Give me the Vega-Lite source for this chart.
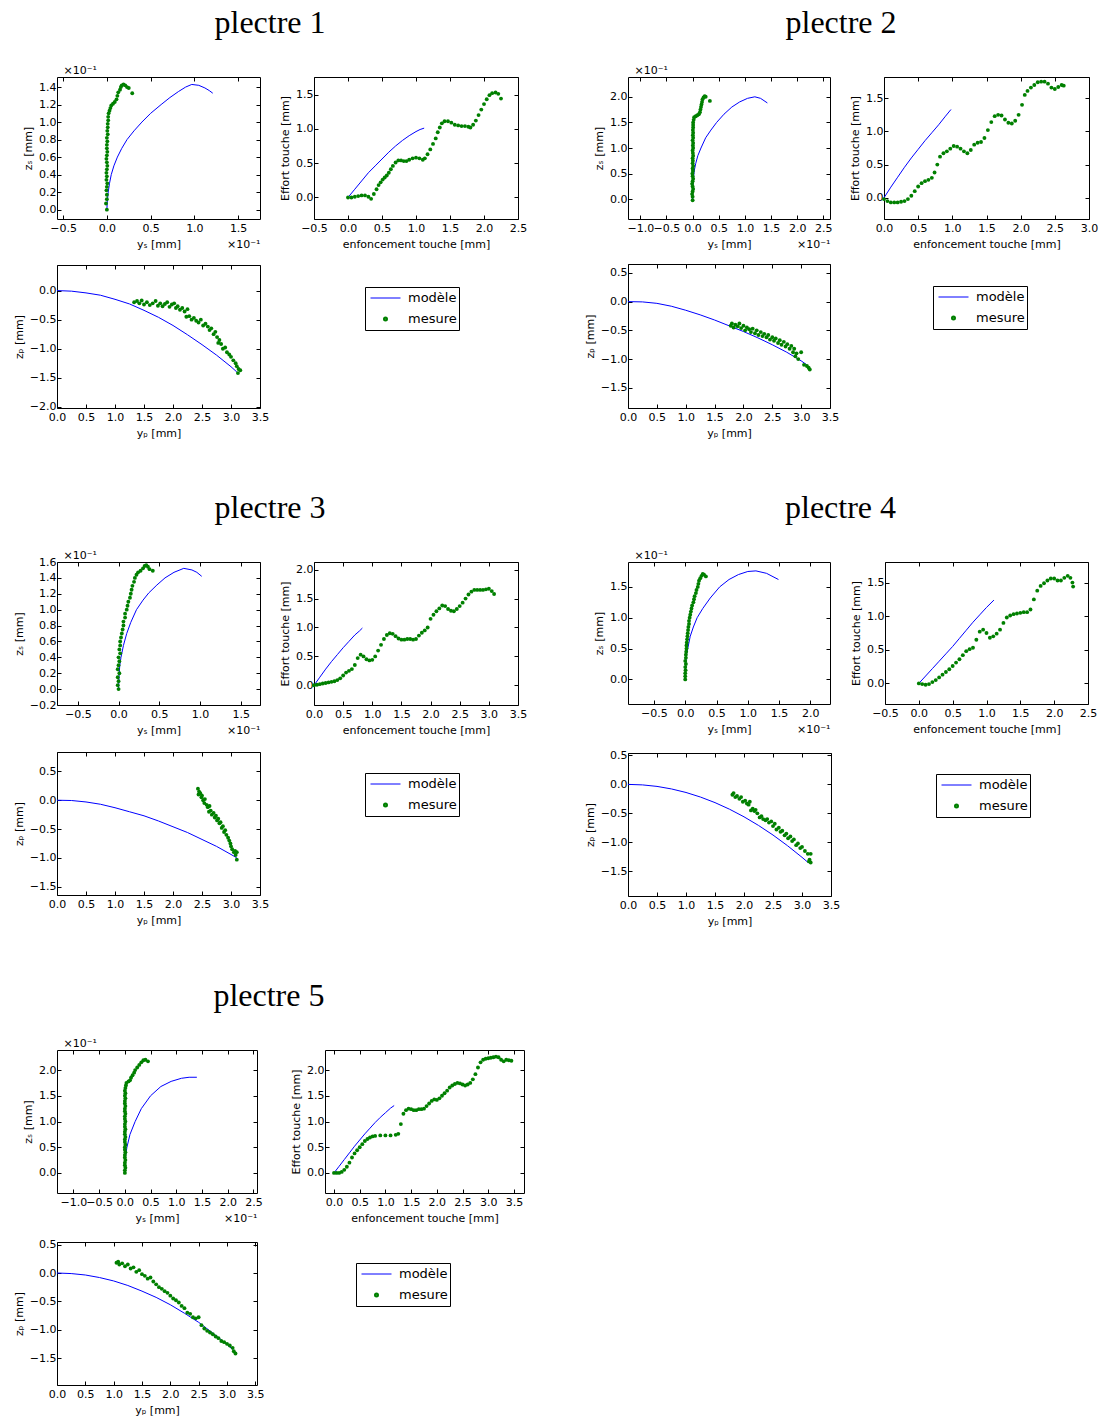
{
"$schema": "https://vega.github.io/schema/vega-lite/v6.json",
"background": "white",
"padding": {"left": 12, "top": 6, "right": 5, "bottom": 5},
"datasets": {
"p1a": [{"x":0,"y":0},{"x":0.005,"y":0.1},{"x":0.015,"y":0.2},{"x":0.03,"y":0.3},{"x":0.05,"y":0.4},{"x":0.08,"y":0.5},{"x":0.12,"y":0.6},{"x":0.17,"y":0.7},{"x":0.23,"y":0.8},{"x":0.31,"y":0.9},{"x":0.4,"y":1.0},{"x":0.5,"y":1.1},{"x":0.62,"y":1.2},{"x":0.72,"y":1.28},{"x":0.82,"y":1.35},{"x":0.9,"y":1.4},{"x":0.97,"y":1.43},{"x":1.05,"y":1.42},{"x":1.12,"y":1.39},{"x":1.17,"y":1.36},{"x":1.21,"y":1.33}],
"p1b": [{"x":0,"y":0},{"x":-0.01,"y":0.07},{"x":0,"y":0.12},{"x":0,"y":0.17},{"x":-0.005,"y":0.22},{"x":0,"y":0.26},{"x":0.005,"y":0.3},{"x":-0.005,"y":0.34},{"x":0,"y":0.38},{"x":-0.005,"y":0.42},{"x":0,"y":0.46},{"x":0.005,"y":0.5},{"x":0,"y":0.54},{"x":-0.005,"y":0.58},{"x":0,"y":0.62},{"x":0.005,"y":0.66},{"x":0,"y":0.7},{"x":0,"y":0.74},{"x":0.005,"y":0.78},{"x":0,"y":0.82},{"x":0.01,"y":0.86},{"x":0.005,"y":0.9},{"x":0.01,"y":0.94},{"x":0.01,"y":0.98},{"x":0.015,"y":1.02},{"x":0.015,"y":1.06},{"x":0.02,"y":1.1},{"x":0.03,"y":1.13},{"x":0.04,"y":1.16},{"x":0.05,"y":1.19},{"x":0.07,"y":1.21},{"x":0.09,"y":1.23},{"x":0.11,"y":1.26},{"x":0.12,"y":1.3},{"x":0.13,"y":1.34},{"x":0.15,"y":1.37},{"x":0.16,"y":1.4},{"x":0.17,"y":1.42},{"x":0.19,"y":1.43},{"x":0.21,"y":1.42},{"x":0.23,"y":1.4},{"x":0.25,"y":1.39},{"x":0.29,"y":1.33}],
"p1c": [{"x":0,"y":0},{"x":0.1,"y":0.12},{"x":0.2,"y":0.24},{"x":0.3,"y":0.36},{"x":0.4,"y":0.46},{"x":0.5,"y":0.56},{"x":0.6,"y":0.66},{"x":0.7,"y":0.75},{"x":0.8,"y":0.83},{"x":0.9,"y":0.9},{"x":1.0,"y":0.96},{"x":1.06,"y":0.99},{"x":1.12,"y":1.01}],
"p1d": [{"x":0,"y":0},{"x":0.05,"y":0},{"x":0.1,"y":0.01},{"x":0.15,"y":0.02},{"x":0.2,"y":0.03},{"x":0.25,"y":0.03},{"x":0.3,"y":0.01},{"x":0.34,"y":-0.02},{"x":0.38,"y":0.05},{"x":0.42,"y":0.12},{"x":0.45,"y":0.18},{"x":0.48,"y":0.22},{"x":0.51,"y":0.26},{"x":0.54,"y":0.29},{"x":0.57,"y":0.32},{"x":0.6,"y":0.36},{"x":0.63,"y":0.41},{"x":0.66,"y":0.46},{"x":0.7,"y":0.51},{"x":0.74,"y":0.54},{"x":0.78,"y":0.54},{"x":0.82,"y":0.53},{"x":0.86,"y":0.53},{"x":0.9,"y":0.55},{"x":0.95,"y":0.57},{"x":1,"y":0.58},{"x":1.05,"y":0.57},{"x":1.1,"y":0.55},{"x":1.13,"y":0.57},{"x":1.17,"y":0.63},{"x":1.21,"y":0.7},{"x":1.25,"y":0.78},{"x":1.29,"y":0.86},{"x":1.32,"y":0.95},{"x":1.35,"y":1.02},{"x":1.38,"y":1.08},{"x":1.42,"y":1.11},{"x":1.47,"y":1.11},{"x":1.52,"y":1.09},{"x":1.57,"y":1.06},{"x":1.62,"y":1.05},{"x":1.67,"y":1.04},{"x":1.72,"y":1.04},{"x":1.77,"y":1.03},{"x":1.8,"y":1.02},{"x":1.84,"y":1.06},{"x":1.88,"y":1.12},{"x":1.92,"y":1.2},{"x":1.96,"y":1.28},{"x":2,"y":1.36},{"x":2.04,"y":1.43},{"x":2.08,"y":1.49},{"x":2.12,"y":1.52},{"x":2.17,"y":1.53},{"x":2.21,"y":1.51},{"x":2.25,"y":1.44}],
"p1e": [{"x":0,"y":0},{"x":0.25,"y":-0.01},{"x":0.5,"y":-0.04},{"x":0.75,"y":-0.08},{"x":1,"y":-0.15},{"x":1.25,"y":-0.23},{"x":1.5,"y":-0.34},{"x":1.75,"y":-0.46},{"x":2,"y":-0.6},{"x":2.25,"y":-0.76},{"x":2.5,"y":-0.93},{"x":2.75,"y":-1.11},{"x":3,"y":-1.31},{"x":3.1,"y":-1.4}],
"p1f": [{"x":1.33,"y":-0.2},{"x":1.38,"y":-0.18},{"x":1.42,"y":-0.22},{"x":1.46,"y":-0.17},{"x":1.5,"y":-0.24},{"x":1.55,"y":-0.2},{"x":1.6,"y":-0.25},{"x":1.65,"y":-0.22},{"x":1.7,"y":-0.18},{"x":1.74,"y":-0.26},{"x":1.78,"y":-0.22},{"x":1.82,"y":-0.27},{"x":1.86,"y":-0.23},{"x":1.9,"y":-0.2},{"x":1.94,"y":-0.28},{"x":1.98,"y":-0.24},{"x":2.02,"y":-0.22},{"x":2.05,"y":-0.3},{"x":2.08,"y":-0.27},{"x":2.12,"y":-0.33},{"x":2.16,"y":-0.3},{"x":2.2,"y":-0.36},{"x":2.25,"y":-0.32},{"x":2.23,"y":-0.45},{"x":2.28,"y":-0.44},{"x":2.32,"y":-0.5},{"x":2.36,"y":-0.47},{"x":2.4,"y":-0.52},{"x":2.44,"y":-0.55},{"x":2.48,"y":-0.5},{"x":2.52,"y":-0.6},{"x":2.56,"y":-0.57},{"x":2.6,"y":-0.62},{"x":2.63,"y":-0.68},{"x":2.66,"y":-0.65},{"x":2.7,"y":-0.75},{"x":2.73,"y":-0.71},{"x":2.76,"y":-0.8},{"x":2.8,"y":-0.85},{"x":2.78,"y":-0.9},{"x":2.83,"y":-0.92},{"x":2.86,"y":-1.0},{"x":2.9,"y":-0.98},{"x":2.93,"y":-1.06},{"x":2.97,"y":-1.1},{"x":3,"y":-1.14},{"x":3.04,"y":-1.2},{"x":3.08,"y":-1.25},{"x":3.1,"y":-1.3},{"x":3.13,"y":-1.35},{"x":3.12,"y":-1.42},{"x":3.16,"y":-1.37}],
"p2a": [{"x":0,"y":0},{"x":0.005,"y":0.2},{"x":0.015,"y":0.4},{"x":0.03,"y":0.55},{"x":0.06,"y":0.7},{"x":0.1,"y":0.85},{"x":0.16,"y":1.0},{"x":0.25,"y":1.2},{"x":0.35,"y":1.35},{"x":0.46,"y":1.5},{"x":0.6,"y":1.66},{"x":0.75,"y":1.8},{"x":0.9,"y":1.9},{"x":1.05,"y":1.97},{"x":1.19,"y":2.0},{"x":1.3,"y":1.97},{"x":1.43,"y":1.88}],
"p2b": [{"x":0,"y":-0.02},{"x":0,"y":0.05},{"x":-0.01,"y":0.1},{"x":0,"y":0.15},{"x":0.01,"y":0.2},{"x":0,"y":0.25},{"x":-0.01,"y":0.3},{"x":0,"y":0.35},{"x":0.01,"y":0.4},{"x":0,"y":0.45},{"x":-0.005,"y":0.5},{"x":0.005,"y":0.55},{"x":0,"y":0.6},{"x":0.01,"y":0.65},{"x":0,"y":0.7},{"x":0.005,"y":0.75},{"x":0,"y":0.8},{"x":0.01,"y":0.85},{"x":0.005,"y":0.9},{"x":0,"y":0.95},{"x":0.01,"y":1.0},{"x":0.005,"y":1.05},{"x":0.01,"y":1.1},{"x":0,"y":1.15},{"x":0.01,"y":1.2},{"x":0.005,"y":1.25},{"x":0.01,"y":1.3},{"x":0.005,"y":1.35},{"x":0.01,"y":1.4},{"x":0.01,"y":1.45},{"x":0.01,"y":1.5},{"x":0.02,"y":1.55},{"x":0.03,"y":1.6},{"x":0.06,"y":1.62},{"x":0.09,"y":1.64},{"x":0.12,"y":1.66},{"x":0.14,"y":1.7},{"x":0.15,"y":1.75},{"x":0.16,"y":1.8},{"x":0.17,"y":1.85},{"x":0.18,"y":1.9},{"x":0.19,"y":1.95},{"x":0.21,"y":1.99},{"x":0.23,"y":2.01},{"x":0.25,"y":2.0},{"x":0.33,"y":1.92}],
"p2c": [{"x":0,"y":0},{"x":0.1,"y":0.16},{"x":0.2,"y":0.31},{"x":0.3,"y":0.46},{"x":0.4,"y":0.6},{"x":0.5,"y":0.73},{"x":0.6,"y":0.86},{"x":0.7,"y":0.98},{"x":0.8,"y":1.1},{"x":0.9,"y":1.23},{"x":0.98,"y":1.33}],
"p2d": [{"x":0,"y":-0.02},{"x":0.05,"y":-0.05},{"x":0.1,"y":-0.07},{"x":0.15,"y":-0.07},{"x":0.2,"y":-0.07},{"x":0.25,"y":-0.06},{"x":0.3,"y":-0.05},{"x":0.35,"y":-0.02},{"x":0.4,"y":0.03},{"x":0.45,"y":0.1},{"x":0.5,"y":0.17},{"x":0.55,"y":0.22},{"x":0.6,"y":0.25},{"x":0.65,"y":0.27},{"x":0.7,"y":0.3},{"x":0.74,"y":0.38},{"x":0.78,"y":0.5},{"x":0.82,"y":0.62},{"x":0.87,"y":0.67},{"x":0.92,"y":0.7},{"x":0.97,"y":0.74},{"x":1.02,"y":0.78},{"x":1.07,"y":0.77},{"x":1.12,"y":0.74},{"x":1.17,"y":0.7},{"x":1.22,"y":0.67},{"x":1.27,"y":0.72},{"x":1.32,"y":0.8},{"x":1.37,"y":0.83},{"x":1.42,"y":0.84},{"x":1.47,"y":0.9},{"x":1.52,"y":1.02},{"x":1.57,"y":1.14},{"x":1.62,"y":1.23},{"x":1.67,"y":1.25},{"x":1.72,"y":1.24},{"x":1.77,"y":1.18},{"x":1.82,"y":1.13},{"x":1.87,"y":1.12},{"x":1.92,"y":1.16},{"x":1.97,"y":1.25},{"x":2.02,"y":1.4},{"x":2.06,"y":1.55},{"x":2.1,"y":1.61},{"x":2.15,"y":1.66},{"x":2.2,"y":1.7},{"x":2.25,"y":1.74},{"x":2.3,"y":1.75},{"x":2.35,"y":1.75},{"x":2.4,"y":1.72},{"x":2.45,"y":1.66},{"x":2.5,"y":1.64},{"x":2.55,"y":1.67},{"x":2.6,"y":1.7},{"x":2.63,"y":1.69}],
"p2e": [{"x":0,"y":0},{"x":0.25,"y":-0.005},{"x":0.5,"y":-0.03},{"x":0.75,"y":-0.08},{"x":1,"y":-0.15},{"x":1.25,"y":-0.23},{"x":1.5,"y":-0.32},{"x":1.75,"y":-0.42},{"x":2,"y":-0.52},{"x":2.25,"y":-0.63},{"x":2.5,"y":-0.75},{"x":2.75,"y":-0.88},{"x":3,"y":-1.03},{"x":3.1,"y":-1.1}],
"p2f": [{"x":1.78,"y":-0.42},{"x":1.8,"y":-0.38},{"x":1.83,"y":-0.45},{"x":1.86,"y":-0.4},{"x":1.9,"y":-0.43},{"x":1.93,"y":-0.38},{"x":1.96,"y":-0.46},{"x":2,"y":-0.42},{"x":2.03,"y":-0.5},{"x":2.06,"y":-0.45},{"x":2.1,"y":-0.48},{"x":2.13,"y":-0.53},{"x":2.16,"y":-0.47},{"x":2.2,"y":-0.55},{"x":2.23,"y":-0.5},{"x":2.26,"y":-0.58},{"x":2.3,"y":-0.53},{"x":2.33,"y":-0.6},{"x":2.36,"y":-0.56},{"x":2.4,"y":-0.62},{"x":2.43,"y":-0.58},{"x":2.46,"y":-0.66},{"x":2.5,"y":-0.62},{"x":2.53,"y":-0.68},{"x":2.56,"y":-0.64},{"x":2.6,"y":-0.72},{"x":2.63,"y":-0.67},{"x":2.66,"y":-0.75},{"x":2.7,"y":-0.7},{"x":2.73,"y":-0.78},{"x":2.76,"y":-0.74},{"x":2.8,"y":-0.82},{"x":2.83,"y":-0.77},{"x":2.86,"y":-0.88},{"x":2.88,"y":-0.82},{"x":2.9,"y":-0.95},{"x":2.92,"y":-0.9},{"x":2.95,"y":-1.0},{"x":3,"y":-0.88},{"x":3.05,"y":-1.1},{"x":3.1,"y":-1.12},{"x":3.13,"y":-1.15},{"x":3.15,"y":-1.18}],
"p3a": [{"x":0,"y":0},{"x":0.005,"y":0.15},{"x":0.015,"y":0.3},{"x":0.03,"y":0.4},{"x":0.06,"y":0.55},{"x":0.1,"y":0.7},{"x":0.15,"y":0.84},{"x":0.22,"y":1.0},{"x":0.3,"y":1.12},{"x":0.37,"y":1.21},{"x":0.47,"y":1.31},{"x":0.57,"y":1.4},{"x":0.68,"y":1.47},{"x":0.8,"y":1.52},{"x":0.9,"y":1.5},{"x":0.96,"y":1.47},{"x":1.02,"y":1.42}],
"p3b": [{"x":0,"y":0},{"x":-0.01,"y":0.05},{"x":0,"y":0.1},{"x":-0.01,"y":0.15},{"x":0.01,"y":0.2},{"x":-0.01,"y":0.25},{"x":0,"y":0.3},{"x":0.01,"y":0.35},{"x":0,"y":0.4},{"x":0.02,"y":0.45},{"x":0.01,"y":0.5},{"x":0.02,"y":0.55},{"x":0.02,"y":0.6},{"x":0.03,"y":0.65},{"x":0.04,"y":0.7},{"x":0.05,"y":0.75},{"x":0.06,"y":0.8},{"x":0.06,"y":0.85},{"x":0.08,"y":0.9},{"x":0.08,"y":0.95},{"x":0.1,"y":1.0},{"x":0.11,"y":1.05},{"x":0.12,"y":1.1},{"x":0.14,"y":1.15},{"x":0.15,"y":1.2},{"x":0.16,"y":1.25},{"x":0.17,"y":1.3},{"x":0.19,"y":1.35},{"x":0.2,"y":1.4},{"x":0.22,"y":1.44},{"x":0.24,"y":1.47},{"x":0.27,"y":1.49},{"x":0.3,"y":1.52},{"x":0.32,"y":1.55},{"x":0.34,"y":1.56},{"x":0.36,"y":1.54},{"x":0.38,"y":1.51},{"x":0.42,"y":1.49}],
"p3c": [{"x":0,"y":0},{"x":0.1,"y":0.14},{"x":0.2,"y":0.28},{"x":0.3,"y":0.41},{"x":0.4,"y":0.53},{"x":0.5,"y":0.65},{"x":0.6,"y":0.76},{"x":0.7,"y":0.87},{"x":0.78,"y":0.94},{"x":0.83,"y":0.99}],
"p3d": [{"x":0,"y":0},{"x":0.05,"y":0.01},{"x":0.1,"y":0.02},{"x":0.15,"y":0.03},{"x":0.2,"y":0.04},{"x":0.25,"y":0.05},{"x":0.3,"y":0.06},{"x":0.35,"y":0.07},{"x":0.4,"y":0.09},{"x":0.45,"y":0.12},{"x":0.5,"y":0.17},{"x":0.55,"y":0.22},{"x":0.6,"y":0.25},{"x":0.65,"y":0.28},{"x":0.7,"y":0.35},{"x":0.75,"y":0.47},{"x":0.8,"y":0.53},{"x":0.85,"y":0.5},{"x":0.9,"y":0.45},{"x":0.95,"y":0.43},{"x":1,"y":0.44},{"x":1.05,"y":0.5},{"x":1.1,"y":0.6},{"x":1.15,"y":0.7},{"x":1.2,"y":0.8},{"x":1.25,"y":0.87},{"x":1.3,"y":0.9},{"x":1.35,"y":0.89},{"x":1.4,"y":0.85},{"x":1.45,"y":0.81},{"x":1.5,"y":0.79},{"x":1.55,"y":0.79},{"x":1.6,"y":0.8},{"x":1.65,"y":0.8},{"x":1.7,"y":0.79},{"x":1.75,"y":0.8},{"x":1.8,"y":0.86},{"x":1.85,"y":0.91},{"x":1.9,"y":0.95},{"x":1.95,"y":1.0},{"x":2,"y":1.15},{"x":2.05,"y":1.22},{"x":2.1,"y":1.28},{"x":2.15,"y":1.33},{"x":2.2,"y":1.38},{"x":2.25,"y":1.37},{"x":2.3,"y":1.32},{"x":2.35,"y":1.29},{"x":2.4,"y":1.28},{"x":2.45,"y":1.32},{"x":2.5,"y":1.37},{"x":2.55,"y":1.43},{"x":2.6,"y":1.5},{"x":2.65,"y":1.57},{"x":2.7,"y":1.62},{"x":2.75,"y":1.65},{"x":2.8,"y":1.65},{"x":2.85,"y":1.65},{"x":2.9,"y":1.65},{"x":2.95,"y":1.66},{"x":3,"y":1.67},{"x":3.05,"y":1.63},{"x":3.09,"y":1.58}],
"p3e": [{"x":0,"y":0},{"x":0.25,"y":-0.005},{"x":0.5,"y":-0.03},{"x":0.75,"y":-0.07},{"x":1,"y":-0.13},{"x":1.25,"y":-0.2},{"x":1.5,"y":-0.27},{"x":1.75,"y":-0.36},{"x":2,"y":-0.46},{"x":2.25,"y":-0.56},{"x":2.5,"y":-0.68},{"x":2.75,"y":-0.8},{"x":3,"y":-0.94},{"x":3.1,"y":-1.0}],
"p3f": [{"x":2.43,"y":0.2},{"x":2.45,"y":0.15},{"x":2.44,"y":0.1},{"x":2.47,"y":0.12},{"x":2.49,"y":0.05},{"x":2.5,"y":0.08},{"x":2.52,"y":0.0},{"x":2.55,"y":0.02},{"x":2.54,"y":-0.05},{"x":2.58,"y":-0.08},{"x":2.6,"y":-0.12},{"x":2.63,"y":-0.1},{"x":2.62,"y":-0.2},{"x":2.65,"y":-0.18},{"x":2.67,"y":-0.25},{"x":2.7,"y":-0.22},{"x":2.72,"y":-0.3},{"x":2.74,"y":-0.27},{"x":2.76,"y":-0.35},{"x":2.78,"y":-0.32},{"x":2.8,"y":-0.4},{"x":2.82,"y":-0.38},{"x":2.84,"y":-0.48},{"x":2.86,"y":-0.45},{"x":2.88,"y":-0.55},{"x":2.9,"y":-0.52},{"x":2.92,"y":-0.6},{"x":2.95,"y":-0.65},{"x":2.97,"y":-0.7},{"x":2.99,"y":-0.75},{"x":3,"y":-0.8},{"x":3.02,"y":-0.85},{"x":3.05,"y":-0.9},{"x":3.07,"y":-0.88},{"x":3.1,"y":-0.9},{"x":3.08,"y":-0.95},{"x":3.1,"y":-1.03}],
"p4a": [{"x":0,"y":0},{"x":0.005,"y":0.2},{"x":0.02,"y":0.4},{"x":0.04,"y":0.5},{"x":0.08,"y":0.7},{"x":0.13,"y":0.85},{"x":0.19,"y":1.0},{"x":0.28,"y":1.15},{"x":0.4,"y":1.32},{"x":0.55,"y":1.5},{"x":0.7,"y":1.62},{"x":0.85,"y":1.7},{"x":1.0,"y":1.75},{"x":1.13,"y":1.76},{"x":1.3,"y":1.72},{"x":1.49,"y":1.62}],
"p4b": [{"x":0,"y":0},{"x":0,"y":0.05},{"x":0,"y":0.1},{"x":0.005,"y":0.15},{"x":0,"y":0.2},{"x":0.01,"y":0.25},{"x":0,"y":0.3},{"x":0.01,"y":0.35},{"x":0.01,"y":0.4},{"x":0.015,"y":0.45},{"x":0.02,"y":0.5},{"x":0.02,"y":0.55},{"x":0.025,"y":0.6},{"x":0.03,"y":0.65},{"x":0.035,"y":0.7},{"x":0.04,"y":0.75},{"x":0.045,"y":0.8},{"x":0.05,"y":0.85},{"x":0.06,"y":0.9},{"x":0.06,"y":0.95},{"x":0.07,"y":1.0},{"x":0.08,"y":1.05},{"x":0.09,"y":1.1},{"x":0.1,"y":1.15},{"x":0.11,"y":1.2},{"x":0.13,"y":1.25},{"x":0.14,"y":1.3},{"x":0.15,"y":1.35},{"x":0.17,"y":1.4},{"x":0.18,"y":1.45},{"x":0.2,"y":1.5},{"x":0.21,"y":1.55},{"x":0.22,"y":1.6},{"x":0.24,"y":1.64},{"x":0.26,"y":1.68},{"x":0.28,"y":1.71},{"x":0.3,"y":1.7},{"x":0.33,"y":1.67}],
"p4c": [{"x":0,"y":0},{"x":0.1,"y":0.11},{"x":0.2,"y":0.22},{"x":0.3,"y":0.33},{"x":0.4,"y":0.44},{"x":0.5,"y":0.55},{"x":0.6,"y":0.67},{"x":0.7,"y":0.79},{"x":0.8,"y":0.91},{"x":0.9,"y":1.02},{"x":1.0,"y":1.13},{"x":1.11,"y":1.24}],
"p4d": [{"x":0,"y":0},{"x":0.05,"y":-0.01},{"x":0.1,"y":-0.02},{"x":0.15,"y":-0.01},{"x":0.2,"y":0.02},{"x":0.25,"y":0.05},{"x":0.3,"y":0.09},{"x":0.35,"y":0.13},{"x":0.4,"y":0.17},{"x":0.45,"y":0.21},{"x":0.5,"y":0.26},{"x":0.55,"y":0.31},{"x":0.6,"y":0.36},{"x":0.65,"y":0.42},{"x":0.7,"y":0.48},{"x":0.75,"y":0.51},{"x":0.8,"y":0.53},{"x":0.85,"y":0.65},{"x":0.9,"y":0.77},{"x":0.95,"y":0.8},{"x":1,"y":0.75},{"x":1.05,"y":0.68},{"x":1.1,"y":0.7},{"x":1.15,"y":0.74},{"x":1.2,"y":0.8},{"x":1.25,"y":0.9},{"x":1.3,"y":0.98},{"x":1.35,"y":1.01},{"x":1.4,"y":1.03},{"x":1.45,"y":1.04},{"x":1.5,"y":1.05},{"x":1.55,"y":1.06},{"x":1.6,"y":1.06},{"x":1.65,"y":1.1},{"x":1.7,"y":1.25},{"x":1.75,"y":1.38},{"x":1.8,"y":1.45},{"x":1.85,"y":1.49},{"x":1.9,"y":1.53},{"x":1.95,"y":1.56},{"x":2,"y":1.56},{"x":2.05,"y":1.53},{"x":2.1,"y":1.53},{"x":2.15,"y":1.57},{"x":2.2,"y":1.6},{"x":2.24,"y":1.57},{"x":2.27,"y":1.5},{"x":2.28,"y":1.44}],
"p4e": [{"x":0,"y":0},{"x":0.25,"y":-0.009},{"x":0.5,"y":-0.035},{"x":0.75,"y":-0.079},{"x":1,"y":-0.14},{"x":1.25,"y":-0.219},{"x":1.5,"y":-0.315},{"x":1.75,"y":-0.429},{"x":2,"y":-0.56},{"x":2.25,"y":-0.709},{"x":2.5,"y":-0.875},{"x":2.75,"y":-1.059},{"x":3,"y":-1.26},{"x":3.1,"y":-1.345}],
"p4f": [{"x":1.8,"y":-0.18},{"x":1.82,"y":-0.15},{"x":1.85,"y":-0.22},{"x":1.88,"y":-0.2},{"x":1.92,"y":-0.25},{"x":1.95,"y":-0.22},{"x":1.98,"y":-0.3},{"x":2.02,"y":-0.28},{"x":2.05,"y":-0.33},{"x":2.08,"y":-0.35},{"x":2.1,"y":-0.3},{"x":2.12,"y":-0.45},{"x":2.15,"y":-0.42},{"x":2.18,"y":-0.46},{"x":2.2,"y":-0.44},{"x":2.23,"y":-0.5},{"x":2.27,"y":-0.57},{"x":2.3,"y":-0.55},{"x":2.33,"y":-0.6},{"x":2.37,"y":-0.62},{"x":2.4,"y":-0.6},{"x":2.43,"y":-0.66},{"x":2.47,"y":-0.64},{"x":2.5,"y":-0.72},{"x":2.53,"y":-0.68},{"x":2.56,"y":-0.78},{"x":2.6,"y":-0.75},{"x":2.63,"y":-0.82},{"x":2.66,"y":-0.8},{"x":2.7,"y":-0.88},{"x":2.73,"y":-0.85},{"x":2.76,"y":-0.93},{"x":2.8,"y":-0.9},{"x":2.83,"y":-0.98},{"x":2.86,"y":-0.95},{"x":2.9,"y":-1.05},{"x":2.93,"y":-1.02},{"x":2.97,"y":-1.1},{"x":3,"y":-1.08},{"x":3.05,"y":-1.15},{"x":3.1,"y":-1.2},{"x":3.15,"y":-1.2},{"x":3.13,"y":-1.3},{"x":3.15,"y":-1.35},{"x":3.12,"y":-1.33}],
"p5a": [{"x":0,"y":0},{"x":0.01,"y":0.3},{"x":0.04,"y":0.5},{"x":0.1,"y":0.75},{"x":0.2,"y":1.0},{"x":0.32,"y":1.25},{"x":0.5,"y":1.5},{"x":0.7,"y":1.68},{"x":0.9,"y":1.78},{"x":1.1,"y":1.84},{"x":1.25,"y":1.86},{"x":1.4,"y":1.86}],
"p5b": [{"x":0,"y":0},{"x":0,"y":0.05},{"x":0.01,"y":0.1},{"x":0,"y":0.15},{"x":0,"y":0.2},{"x":0.01,"y":0.25},{"x":0,"y":0.3},{"x":0,"y":0.35},{"x":0.01,"y":0.4},{"x":0,"y":0.45},{"x":0,"y":0.5},{"x":0.01,"y":0.55},{"x":0,"y":0.6},{"x":0,"y":0.65},{"x":0.01,"y":0.7},{"x":0,"y":0.75},{"x":0,"y":0.8},{"x":0.01,"y":0.85},{"x":0,"y":0.9},{"x":0,"y":0.95},{"x":0.01,"y":1.0},{"x":0,"y":1.05},{"x":0,"y":1.1},{"x":0.01,"y":1.15},{"x":0,"y":1.2},{"x":0,"y":1.25},{"x":0.01,"y":1.3},{"x":0,"y":1.35},{"x":0,"y":1.4},{"x":0.01,"y":1.45},{"x":0,"y":1.5},{"x":0.01,"y":1.55},{"x":0,"y":1.6},{"x":0.01,"y":1.65},{"x":0.02,"y":1.7},{"x":0.03,"y":1.75},{"x":0.07,"y":1.78},{"x":0.1,"y":1.8},{"x":0.12,"y":1.85},{"x":0.15,"y":1.9},{"x":0.18,"y":1.95},{"x":0.2,"y":2.0},{"x":0.24,"y":2.05},{"x":0.28,"y":2.1},{"x":0.32,"y":2.15},{"x":0.36,"y":2.19},{"x":0.4,"y":2.2},{"x":0.45,"y":2.17}],
"p5c": [{"x":0,"y":0},{"x":0.1,"y":0.13},{"x":0.2,"y":0.26},{"x":0.3,"y":0.39},{"x":0.4,"y":0.52},{"x":0.5,"y":0.64},{"x":0.6,"y":0.76},{"x":0.7,"y":0.87},{"x":0.8,"y":0.98},{"x":0.9,"y":1.08},{"x":1.0,"y":1.17},{"x":1.1,"y":1.26},{"x":1.17,"y":1.31}],
"p5d": [{"x":0,"y":0},{"x":0.05,"y":0},{"x":0.1,"y":0},{"x":0.15,"y":0.02},{"x":0.2,"y":0.06},{"x":0.25,"y":0.12},{"x":0.3,"y":0.2},{"x":0.35,"y":0.3},{"x":0.4,"y":0.38},{"x":0.45,"y":0.44},{"x":0.5,"y":0.5},{"x":0.55,"y":0.56},{"x":0.6,"y":0.62},{"x":0.65,"y":0.66},{"x":0.7,"y":0.69},{"x":0.75,"y":0.71},{"x":0.8,"y":0.72},{"x":0.9,"y":0.73},{"x":1.0,"y":0.73},{"x":1.1,"y":0.73},{"x":1.2,"y":0.74},{"x":1.25,"y":0.76},{"x":1.3,"y":0.95},{"x":1.35,"y":1.15},{"x":1.4,"y":1.22},{"x":1.45,"y":1.25},{"x":1.5,"y":1.24},{"x":1.55,"y":1.22},{"x":1.6,"y":1.22},{"x":1.65,"y":1.24},{"x":1.7,"y":1.24},{"x":1.75,"y":1.25},{"x":1.8,"y":1.3},{"x":1.85,"y":1.35},{"x":1.9,"y":1.4},{"x":1.95,"y":1.43},{"x":2.0,"y":1.42},{"x":2.05,"y":1.45},{"x":2.1,"y":1.5},{"x":2.15,"y":1.55},{"x":2.2,"y":1.6},{"x":2.25,"y":1.66},{"x":2.3,"y":1.7},{"x":2.35,"y":1.73},{"x":2.4,"y":1.75},{"x":2.45,"y":1.74},{"x":2.5,"y":1.72},{"x":2.55,"y":1.7},{"x":2.6,"y":1.72},{"x":2.65,"y":1.75},{"x":2.7,"y":1.82},{"x":2.75,"y":1.92},{"x":2.8,"y":2.05},{"x":2.85,"y":2.15},{"x":2.9,"y":2.2},{"x":2.95,"y":2.22},{"x":3.0,"y":2.23},{"x":3.05,"y":2.24},{"x":3.1,"y":2.25},{"x":3.15,"y":2.26},{"x":3.2,"y":2.25},{"x":3.25,"y":2.2},{"x":3.3,"y":2.17},{"x":3.35,"y":2.2},{"x":3.4,"y":2.19},{"x":3.45,"y":2.18}],
"p5e": [{"x":0,"y":0},{"x":0.25,"y":-0.01},{"x":0.5,"y":-0.035},{"x":0.75,"y":-0.08},{"x":1,"y":-0.14},{"x":1.25,"y":-0.22},{"x":1.5,"y":-0.32},{"x":1.75,"y":-0.43},{"x":2,"y":-0.56},{"x":2.25,"y":-0.71},{"x":2.5,"y":-0.87},{"x":2.75,"y":-1.06},{"x":3,"y":-1.26},{"x":3.1,"y":-1.35}],
"p5f": [{"x":1.05,"y":0.18},{"x":1.1,"y":0.15},{"x":1.08,"y":0.2},{"x":1.15,"y":0.17},{"x":1.2,"y":0.12},{"x":1.25,"y":0.15},{"x":1.3,"y":0.08},{"x":1.35,"y":0.1},{"x":1.4,"y":0.02},{"x":1.45,"y":0.05},{"x":1.5,"y":-0.02},{"x":1.55,"y":-0.05},{"x":1.6,"y":-0.1},{"x":1.65,"y":-0.08},{"x":1.7,"y":-0.15},{"x":1.75,"y":-0.2},{"x":1.8,"y":-0.25},{"x":1.85,"y":-0.28},{"x":1.9,"y":-0.32},{"x":1.95,"y":-0.35},{"x":2,"y":-0.4},{"x":2.05,"y":-0.45},{"x":2.1,"y":-0.48},{"x":2.15,"y":-0.52},{"x":2.2,"y":-0.58},{"x":2.25,"y":-0.62},{"x":2.3,"y":-0.7},{"x":2.35,"y":-0.72},{"x":2.4,"y":-0.78},{"x":2.45,"y":-0.8},{"x":2.5,"y":-0.78},{"x":2.55,"y":-0.92},{"x":2.6,"y":-0.98},{"x":2.65,"y":-1.02},{"x":2.7,"y":-1.05},{"x":2.75,"y":-1.08},{"x":2.8,"y":-1.12},{"x":2.85,"y":-1.15},{"x":2.9,"y":-1.2},{"x":2.95,"y":-1.22},{"x":3,"y":-1.25},{"x":3.05,"y":-1.28},{"x":3.1,"y":-1.32},{"x":3.12,"y":-1.38},{"x":3.15,"y":-1.42}]
},
"vconcat": [
{"hconcat": [
{"title": {"text": "plectre 1"}, "columns": 2, "align": "each", "spacing": {"row": 14, "column": 9},
 "concat": [
  {"width":203,"height":142,"layer":[
   {"data":{"name":"p1a"},"mark":{"type":"line","color":"#0000ff","strokeWidth":1},"encoding":{
    "x":{"field":"x","type":"quantitative","scale":{"domain":[-0.57,1.75],"nice":false,"zero":false},"axis":{"values":[-0.5,0,0.5,1,1.5],"title":"yₛ [mm]"}},
    "y":{"field":"y","type":"quantitative","scale":{"domain":[-0.107,1.515],"nice":false,"zero":false},"axis":{"values":[0,0.2,0.4,0.6,0.8,1,1.2,1.4],"title":"zₛ [mm]"}}}},
   {"data":{"name":"p1b"},"mark":{"type":"point","filled":true,"color":"#008000","size":15,"opacity":1},"encoding":{
    "x":{"field":"x","type":"quantitative","scale":{"domain":[-0.57,1.75],"nice":false,"zero":false},"axis":{"orient":"top","values":[-0.5,0,0.5,1,1.5],"labels":false,"title":"×10⁻¹","titleX":203,"titleY":170,"titleAlign":"right","titleBaseline":"alphabetic","titleAngle":0}},
    "y":{"field":"y","type":"quantitative","scale":{"domain":[-0.107,1.515],"nice":false,"zero":false},"axis":{"orient":"right","values":[0,0.2,0.4,0.6,0.8,1,1.2,1.4],"labels":false,"title":"×10⁻¹","titleX":-197,"titleY":-4,"titleAlign":"left","titleBaseline":"alphabetic","titleAngle":0}}}}
  ],"resolve":{"scale":{"x":"independent","y":"independent"}}},
  {"width":204,"height":142,"layer":[
   {"data":{"name":"p1c"},"mark":{"type":"line","color":"#0000ff","strokeWidth":1},"encoding":{
    "x":{"field":"x","type":"quantitative","scale":{"domain":[-0.5,2.5],"nice":false,"zero":false},"axis":{"values":[-0.5,0,0.5,1,1.5,2,2.5],"title":"enfoncement touche [mm]"}},
    "y":{"field":"y","type":"quantitative","scale":{"domain":[-0.314,1.755],"nice":false,"zero":false},"axis":{"values":[0,0.5,1,1.5],"title":"Effort touche [mm]"}}}},
   {"data":{"name":"p1d"},"mark":{"type":"point","filled":true,"color":"#008000","size":15,"opacity":1},"encoding":{
    "x":{"field":"x","type":"quantitative","scale":{"domain":[-0.5,2.5],"nice":false,"zero":false},"axis":{"orient":"top","values":[-0.5,0,0.5,1,1.5,2,2.5],"labels":false,"title":null}},
    "y":{"field":"y","type":"quantitative","scale":{"domain":[-0.314,1.755],"nice":false,"zero":false},"axis":{"orient":"right","values":[0,0.5,1,1.5],"labels":false,"title":null}}}}
  ],"resolve":{"scale":{"x":"independent","y":"independent"}}},
  {"width":203,"height":143,"layer":[
   {"data":{"name":"p1e"},"mark":{"type":"line","color":"#0000ff","strokeWidth":1},"encoding":{
    "x":{"field":"x","type":"quantitative","scale":{"domain":[0,3.5],"nice":false,"zero":false},"axis":{"values":[0,0.5,1,1.5,2,2.5,3,3.5],"title":"yₚ [mm]"}},
    "y":{"field":"y","type":"quantitative","scale":{"domain":[-2.02,0.44],"nice":false,"zero":false},"axis":{"values":[-2,-1.5,-1,-0.5,0],"title":"zₚ [mm]"}}}},
   {"data":{"name":"p1f"},"mark":{"type":"point","filled":true,"color":"#008000","size":15,"opacity":1},"encoding":{
    "x":{"field":"x","type":"quantitative","scale":{"domain":[0,3.5],"nice":false,"zero":false},"axis":{"orient":"top","values":[0,0.5,1,1.5,2,2.5,3,3.5],"labels":false,"title":null}},
    "y":{"field":"y","type":"quantitative","scale":{"domain":[-2.02,0.44],"nice":false,"zero":false},"axis":{"orient":"right","values":[-2,-1.5,-1,-0.5,0],"labels":false,"title":null}}}}
  ],"resolve":{"scale":{"x":"independent","y":"independent"}}},
  {"width":204,"height":143,"view":{"stroke":null},"data":{"values":[]},"mark":{"type":"point","filled":false,"opacity":1},
   "encoding":{
    "color":{"field":"s","type":"nominal","scale":{"domain":["modèle","mesure"],"range":["#0000ff","#008000"]},"legend":{"orient":"none","legendX":51,"legendY":22,"title":null}},
    "shape":{"field":"s","type":"nominal","scale":{"domain":["modèle","mesure"],"range":["stroke","circle"]},"legend":{"orient":"none","legendX":51,"legendY":22,"title":null}},
    "size":{"field":"s","type":"nominal","scale":{"domain":["modèle","mesure"],"range":[900,8]},"legend":{"orient":"none","legendX":51,"legendY":22,"title":null}},
    "strokeWidth":{"field":"s","type":"nominal","scale":{"domain":["modèle","mesure"],"range":[1,2.2]},"legend":{"orient":"none","legendX":51,"legendY":22,"title":null}}}}
 ],
 "resolve":{"scale":{"color":"independent","shape":"independent","size":"independent","strokeWidth":"independent"},"legend":{"color":"independent","shape":"independent","size":"independent","strokeWidth":"independent"}}},
{"title": {"text": "plectre 2"}, "columns": 2, "align": "each", "spacing": {"row": 13, "column": 9},
 "concat": [
  {"width":202,"height":142,"layer":[
   {"data":{"name":"p2a"},"mark":{"type":"line","color":"#0000ff","strokeWidth":1},"encoding":{
    "x":{"field":"x","type":"quantitative","scale":{"domain":[-1.236,2.628],"nice":false,"zero":false},"axis":{"values":[-1,-0.5,0,0.5,1,1.5,2,2.5],"title":"yₛ [mm]"}},
    "y":{"field":"y","type":"quantitative","scale":{"domain":[-0.387,2.387],"nice":false,"zero":false},"axis":{"values":[0,0.5,1,1.5,2],"title":"zₛ [mm]"}}}},
   {"data":{"name":"p2b"},"mark":{"type":"point","filled":true,"color":"#008000","size":15,"opacity":1},"encoding":{
    "x":{"field":"x","type":"quantitative","scale":{"domain":[-1.236,2.628],"nice":false,"zero":false},"axis":{"orient":"top","values":[-1,-0.5,0,0.5,1,1.5,2,2.5],"labels":false,"title":"×10⁻¹","titleX":202,"titleY":170,"titleAlign":"right","titleBaseline":"alphabetic","titleAngle":0}},
    "y":{"field":"y","type":"quantitative","scale":{"domain":[-0.387,2.387],"nice":false,"zero":false},"axis":{"orient":"right","values":[0,0.5,1,1.5,2],"labels":false,"title":"×10⁻¹","titleX":-196,"titleY":-4,"titleAlign":"left","titleBaseline":"alphabetic","titleAngle":0}}}}
  ],"resolve":{"scale":{"x":"independent","y":"independent"}}},
  {"width":205,"height":142,"layer":[
   {"data":{"name":"p2c"},"mark":{"type":"line","color":"#0000ff","strokeWidth":1},"encoding":{
    "x":{"field":"x","type":"quantitative","scale":{"domain":[0,3],"nice":false,"zero":false},"axis":{"values":[0,0.5,1,1.5,2,2.5,3],"title":"enfoncement touche [mm]"}},
    "y":{"field":"y","type":"quantitative","scale":{"domain":[-0.32,1.82],"nice":false,"zero":false},"axis":{"values":[0,0.5,1,1.5],"title":"Effort touche [mm]"}}}},
   {"data":{"name":"p2d"},"mark":{"type":"point","filled":true,"color":"#008000","size":15,"opacity":1},"encoding":{
    "x":{"field":"x","type":"quantitative","scale":{"domain":[0,3],"nice":false,"zero":false},"axis":{"orient":"top","values":[0,0.5,1,1.5,2,2.5,3],"labels":false,"title":null}},
    "y":{"field":"y","type":"quantitative","scale":{"domain":[-0.32,1.82],"nice":false,"zero":false},"axis":{"orient":"right","values":[0,0.5,1,1.5],"labels":false,"title":null}}}}
  ],"resolve":{"scale":{"x":"independent","y":"independent"}}},
  {"width":202,"height":144,"layer":[
   {"data":{"name":"p2e"},"mark":{"type":"line","color":"#0000ff","strokeWidth":1},"encoding":{
    "x":{"field":"x","type":"quantitative","scale":{"domain":[0,3.5],"nice":false,"zero":false},"axis":{"values":[0,0.5,1,1.5,2,2.5,3,3.5],"title":"yₚ [mm]"}},
    "y":{"field":"y","type":"quantitative","scale":{"domain":[-1.85,0.654],"nice":false,"zero":false},"axis":{"values":[-1.5,-1,-0.5,0,0.5],"title":"zₚ [mm]"}}}},
   {"data":{"name":"p2f"},"mark":{"type":"point","filled":true,"color":"#008000","size":15,"opacity":1},"encoding":{
    "x":{"field":"x","type":"quantitative","scale":{"domain":[0,3.5],"nice":false,"zero":false},"axis":{"orient":"top","values":[0,0.5,1,1.5,2,2.5,3,3.5],"labels":false,"title":null}},
    "y":{"field":"y","type":"quantitative","scale":{"domain":[-1.85,0.654],"nice":false,"zero":false},"axis":{"orient":"right","values":[-1.5,-1,-0.5,0,0.5],"labels":false,"title":null}}}}
  ],"resolve":{"scale":{"x":"independent","y":"independent"}}},
  {"width":205,"height":144,"view":{"stroke":null},"data":{"values":[]},"mark":{"type":"point","filled":false,"opacity":1},
   "encoding":{
    "color":{"field":"s","type":"nominal","scale":{"domain":["modèle","mesure"],"range":["#0000ff","#008000"]},"legend":{"orient":"none","legendX":49,"legendY":22,"title":null}},
    "shape":{"field":"s","type":"nominal","scale":{"domain":["modèle","mesure"],"range":["stroke","circle"]},"legend":{"orient":"none","legendX":49,"legendY":22,"title":null}},
    "size":{"field":"s","type":"nominal","scale":{"domain":["modèle","mesure"],"range":[900,8]},"legend":{"orient":"none","legendX":49,"legendY":22,"title":null}},
    "strokeWidth":{"field":"s","type":"nominal","scale":{"domain":["modèle","mesure"],"range":[1,2.2]},"legend":{"orient":"none","legendX":49,"legendY":22,"title":null}}}}
 ],
 "resolve":{"scale":{"color":"independent","shape":"independent","size":"independent","strokeWidth":"independent"},"legend":{"color":"independent","shape":"independent","size":"independent","strokeWidth":"independent"}}}
], "spacing": 55, "resolve":{"scale":{"color":"independent","shape":"independent","size":"independent","strokeWidth":"independent"},"legend":{"color":"independent","shape":"independent","size":"independent","strokeWidth":"independent"}}},
{"hconcat": [
{"title": {"text": "plectre 3"}, "columns": 2, "align": "each", "spacing": {"row": 15, "column": 9},
 "concat": [
  {"width":203,"height":143,"layer":[
   {"data":{"name":"p3a"},"mark":{"type":"line","color":"#0000ff","strokeWidth":1},"encoding":{
    "x":{"field":"x","type":"quantitative","scale":{"domain":[-0.755,1.735],"nice":false,"zero":false},"axis":{"values":[-0.5,0,0.5,1,1.5],"title":"yₛ [mm]"}},
    "y":{"field":"y","type":"quantitative","scale":{"domain":[-0.2,1.6],"nice":false,"zero":false},"axis":{"values":[-0.2,0,0.2,0.4,0.6,0.8,1,1.2,1.4,1.6],"title":"zₛ [mm]"}}}},
   {"data":{"name":"p3b"},"mark":{"type":"point","filled":true,"color":"#008000","size":15,"opacity":1},"encoding":{
    "x":{"field":"x","type":"quantitative","scale":{"domain":[-0.755,1.735],"nice":false,"zero":false},"axis":{"orient":"top","values":[-0.5,0,0.5,1,1.5],"labels":false,"title":"×10⁻¹","titleX":203,"titleY":171,"titleAlign":"right","titleBaseline":"alphabetic","titleAngle":0}},
    "y":{"field":"y","type":"quantitative","scale":{"domain":[-0.2,1.6],"nice":false,"zero":false},"axis":{"orient":"right","values":[-0.2,0,0.2,0.4,0.6,0.8,1,1.2,1.4,1.6],"labels":false,"title":"×10⁻¹","titleX":-197,"titleY":-4,"titleAlign":"left","titleBaseline":"alphabetic","titleAngle":0}}}}
  ],"resolve":{"scale":{"x":"independent","y":"independent"}}},
  {"width":204,"height":143,"layer":[
   {"data":{"name":"p3c"},"mark":{"type":"line","color":"#0000ff","strokeWidth":1},"encoding":{
    "x":{"field":"x","type":"quantitative","scale":{"domain":[0,3.5],"nice":false,"zero":false},"axis":{"values":[0,0.5,1,1.5,2,2.5,3,3.5],"title":"enfoncement touche [mm]"}},
    "y":{"field":"y","type":"quantitative","scale":{"domain":[-0.341,2.133],"nice":false,"zero":false},"axis":{"values":[0,0.5,1,1.5,2],"title":"Effort touche [mm]"}}}},
   {"data":{"name":"p3d"},"mark":{"type":"point","filled":true,"color":"#008000","size":15,"opacity":1},"encoding":{
    "x":{"field":"x","type":"quantitative","scale":{"domain":[0,3.5],"nice":false,"zero":false},"axis":{"orient":"top","values":[0,0.5,1,1.5,2,2.5,3,3.5],"labels":false,"title":null}},
    "y":{"field":"y","type":"quantitative","scale":{"domain":[-0.341,2.133],"nice":false,"zero":false},"axis":{"orient":"right","values":[0,0.5,1,1.5,2],"labels":false,"title":null}}}}
  ],"resolve":{"scale":{"x":"independent","y":"independent"}}},
  {"width":203,"height":143,"layer":[
   {"data":{"name":"p3e"},"mark":{"type":"line","color":"#0000ff","strokeWidth":1},"encoding":{
    "x":{"field":"x","type":"quantitative","scale":{"domain":[0,3.5],"nice":false,"zero":false},"axis":{"values":[0,0.5,1,1.5,2,2.5,3,3.5],"title":"yₚ [mm]"}},
    "y":{"field":"y","type":"quantitative","scale":{"domain":[-1.643,0.836],"nice":false,"zero":false},"axis":{"values":[-1.5,-1,-0.5,0,0.5],"title":"zₚ [mm]"}}}},
   {"data":{"name":"p3f"},"mark":{"type":"point","filled":true,"color":"#008000","size":15,"opacity":1},"encoding":{
    "x":{"field":"x","type":"quantitative","scale":{"domain":[0,3.5],"nice":false,"zero":false},"axis":{"orient":"top","values":[0,0.5,1,1.5,2,2.5,3,3.5],"labels":false,"title":null}},
    "y":{"field":"y","type":"quantitative","scale":{"domain":[-1.643,0.836],"nice":false,"zero":false},"axis":{"orient":"right","values":[-1.5,-1,-0.5,0,0.5],"labels":false,"title":null}}}}
  ],"resolve":{"scale":{"x":"independent","y":"independent"}}},
  {"width":204,"height":143,"view":{"stroke":null},"data":{"values":[]},"mark":{"type":"point","filled":false,"opacity":1},
   "encoding":{
    "color":{"field":"s","type":"nominal","scale":{"domain":["modèle","mesure"],"range":["#0000ff","#008000"]},"legend":{"orient":"none","legendX":51,"legendY":21,"title":null}},
    "shape":{"field":"s","type":"nominal","scale":{"domain":["modèle","mesure"],"range":["stroke","circle"]},"legend":{"orient":"none","legendX":51,"legendY":21,"title":null}},
    "size":{"field":"s","type":"nominal","scale":{"domain":["modèle","mesure"],"range":[900,8]},"legend":{"orient":"none","legendX":51,"legendY":21,"title":null}},
    "strokeWidth":{"field":"s","type":"nominal","scale":{"domain":["modèle","mesure"],"range":[1,2.2]},"legend":{"orient":"none","legendX":51,"legendY":21,"title":null}}}}
 ],
 "resolve":{"scale":{"color":"independent","shape":"independent","size":"independent","strokeWidth":"independent"},"legend":{"color":"independent","shape":"independent","size":"independent","strokeWidth":"independent"}}},
{"title": {"text": "plectre 4"}, "columns": 2, "align": "each", "spacing": {"row": 13, "column": 9},
 "concat": [
  {"width":202,"height":142,"layer":[
   {"data":{"name":"p4a"},"mark":{"type":"line","color":"#0000ff","strokeWidth":1},"encoding":{
    "x":{"field":"x","type":"quantitative","scale":{"domain":[-0.915,2.314],"nice":false,"zero":false},"axis":{"values":[-0.5,0,0.5,1,1.5,2],"title":"yₛ [mm]"}},
    "y":{"field":"y","type":"quantitative","scale":{"domain":[-0.399,1.904],"nice":false,"zero":false},"axis":{"values":[0,0.5,1,1.5],"title":"zₛ [mm]"}}}},
   {"data":{"name":"p4b"},"mark":{"type":"point","filled":true,"color":"#008000","size":15,"opacity":1},"encoding":{
    "x":{"field":"x","type":"quantitative","scale":{"domain":[-0.915,2.314],"nice":false,"zero":false},"axis":{"orient":"top","values":[-0.5,0,0.5,1,1.5,2],"labels":false,"title":"×10⁻¹","titleX":202,"titleY":170,"titleAlign":"right","titleBaseline":"alphabetic","titleAngle":0}},
    "y":{"field":"y","type":"quantitative","scale":{"domain":[-0.399,1.904],"nice":false,"zero":false},"axis":{"orient":"right","values":[0,0.5,1,1.5],"labels":false,"title":"×10⁻¹","titleX":-196,"titleY":-4,"titleAlign":"left","titleBaseline":"alphabetic","titleAngle":0}}}}
  ],"resolve":{"scale":{"x":"independent","y":"independent"}}},
  {"width":203,"height":142,"layer":[
   {"data":{"name":"p4c"},"mark":{"type":"line","color":"#0000ff","strokeWidth":1},"encoding":{
    "x":{"field":"x","type":"quantitative","scale":{"domain":[-0.5,2.5],"nice":false,"zero":false},"axis":{"values":[-0.5,0,0.5,1,1.5,2,2.5],"title":"enfoncement touche [mm]"}},
    "y":{"field":"y","type":"quantitative","scale":{"domain":[-0.306,1.806],"nice":false,"zero":false},"axis":{"values":[0,0.5,1,1.5],"title":"Effort touche [mm]"}}}},
   {"data":{"name":"p4d"},"mark":{"type":"point","filled":true,"color":"#008000","size":15,"opacity":1},"encoding":{
    "x":{"field":"x","type":"quantitative","scale":{"domain":[-0.5,2.5],"nice":false,"zero":false},"axis":{"orient":"top","values":[-0.5,0,0.5,1,1.5,2,2.5],"labels":false,"title":null}},
    "y":{"field":"y","type":"quantitative","scale":{"domain":[-0.306,1.806],"nice":false,"zero":false},"axis":{"orient":"right","values":[0,0.5,1,1.5],"labels":false,"title":null}}}}
  ],"resolve":{"scale":{"x":"independent","y":"independent"}}},
  {"width":203,"height":143,"layer":[
   {"data":{"name":"p4e"},"mark":{"type":"line","color":"#0000ff","strokeWidth":1},"encoding":{
    "x":{"field":"x","type":"quantitative","scale":{"domain":[0,3.5],"nice":false,"zero":false},"axis":{"values":[0,0.5,1,1.5,2,2.5,3,3.5],"title":"yₚ [mm]"}},
    "y":{"field":"y","type":"quantitative","scale":{"domain":[-1.928,0.542],"nice":false,"zero":false},"axis":{"values":[-1.5,-1,-0.5,0,0.5],"title":"zₚ [mm]"}}}},
   {"data":{"name":"p4f"},"mark":{"type":"point","filled":true,"color":"#008000","size":15,"opacity":1},"encoding":{
    "x":{"field":"x","type":"quantitative","scale":{"domain":[0,3.5],"nice":false,"zero":false},"axis":{"orient":"top","values":[0,0.5,1,1.5,2,2.5,3,3.5],"labels":false,"title":null}},
    "y":{"field":"y","type":"quantitative","scale":{"domain":[-1.928,0.542],"nice":false,"zero":false},"axis":{"orient":"right","values":[-1.5,-1,-0.5,0,0.5],"labels":false,"title":null}}}}
  ],"resolve":{"scale":{"x":"independent","y":"independent"}}},
  {"width":203,"height":143,"view":{"stroke":null},"data":{"values":[]},"mark":{"type":"point","filled":false,"opacity":1},
   "encoding":{
    "color":{"field":"s","type":"nominal","scale":{"domain":["modèle","mesure"],"range":["#0000ff","#008000"]},"legend":{"orient":"none","legendX":51,"legendY":21,"title":null}},
    "shape":{"field":"s","type":"nominal","scale":{"domain":["modèle","mesure"],"range":["stroke","circle"]},"legend":{"orient":"none","legendX":51,"legendY":21,"title":null}},
    "size":{"field":"s","type":"nominal","scale":{"domain":["modèle","mesure"],"range":[900,8]},"legend":{"orient":"none","legendX":51,"legendY":21,"title":null}},
    "strokeWidth":{"field":"s","type":"nominal","scale":{"domain":["modèle","mesure"],"range":[1,2.2]},"legend":{"orient":"none","legendX":51,"legendY":21,"title":null}}}}
 ],
 "resolve":{"scale":{"color":"independent","shape":"independent","size":"independent","strokeWidth":"independent"},"legend":{"color":"independent","shape":"independent","size":"independent","strokeWidth":"independent"}}}
], "spacing": 55, "resolve":{"scale":{"color":"independent","shape":"independent","size":"independent","strokeWidth":"independent"},"legend":{"color":"independent","shape":"independent","size":"independent","strokeWidth":"independent"}}},
{"hconcat": [
{"title": {"text": "plectre 5"}, "columns": 2, "align": "each", "spacing": {"row": 14, "column": 25},
 "concat": [
  {"width":200,"height":143,"layer":[
   {"data":{"name":"p5a"},"mark":{"type":"line","color":"#0000ff","strokeWidth":1},"encoding":{
    "x":{"field":"x","type":"quantitative","scale":{"domain":[-1.32,2.57],"nice":false,"zero":false},"axis":{"values":[-1,-0.5,0,0.5,1,1.5,2,2.5],"title":"yₛ [mm]"}},
    "y":{"field":"y","type":"quantitative","scale":{"domain":[-0.39,2.39],"nice":false,"zero":false},"axis":{"values":[0,0.5,1,1.5,2],"title":"zₛ [mm]"}}}},
   {"data":{"name":"p5b"},"mark":{"type":"point","filled":true,"color":"#008000","size":15,"opacity":1},"encoding":{
    "x":{"field":"x","type":"quantitative","scale":{"domain":[-1.32,2.57],"nice":false,"zero":false},"axis":{"orient":"top","values":[-1,-0.5,0,0.5,1,1.5,2,2.5],"labels":false,"title":"×10⁻¹","titleX":200,"titleY":171,"titleAlign":"right","titleBaseline":"alphabetic","titleAngle":0}},
    "y":{"field":"y","type":"quantitative","scale":{"domain":[-0.39,2.39],"nice":false,"zero":false},"axis":{"orient":"right","values":[0,0.5,1,1.5,2],"labels":false,"title":"×10⁻¹","titleX":-194,"titleY":-4,"titleAlign":"left","titleBaseline":"alphabetic","titleAngle":0}}}}
  ],"resolve":{"scale":{"x":"independent","y":"independent"}}},
  {"width":199,"height":143,"layer":[
   {"data":{"name":"p5c"},"mark":{"type":"line","color":"#0000ff","strokeWidth":1},"encoding":{
    "x":{"field":"x","type":"quantitative","scale":{"domain":[-0.175,3.695],"nice":false,"zero":false},"axis":{"values":[0,0.5,1,1.5,2,2.5,3,3.5],"title":"enfoncement touche [mm]"}},
    "y":{"field":"y","type":"quantitative","scale":{"domain":[-0.39,2.39],"nice":false,"zero":false},"axis":{"values":[0,0.5,1,1.5,2],"title":"Effort touche [mm]"}}}},
   {"data":{"name":"p5d"},"mark":{"type":"point","filled":true,"color":"#008000","size":15,"opacity":1},"encoding":{
    "x":{"field":"x","type":"quantitative","scale":{"domain":[-0.175,3.695],"nice":false,"zero":false},"axis":{"orient":"top","values":[0,0.5,1,1.5,2,2.5,3,3.5],"labels":false,"title":null}},
    "y":{"field":"y","type":"quantitative","scale":{"domain":[-0.39,2.39],"nice":false,"zero":false},"axis":{"orient":"right","values":[0,0.5,1,1.5,2],"labels":false,"title":null}}}}
  ],"resolve":{"scale":{"x":"independent","y":"independent"}}},
  {"width":200,"height":143,"layer":[
   {"data":{"name":"p5e"},"mark":{"type":"line","color":"#0000ff","strokeWidth":1},"encoding":{
    "x":{"field":"x","type":"quantitative","scale":{"domain":[0,3.53],"nice":false,"zero":false},"axis":{"values":[0,0.5,1,1.5,2,2.5,3,3.5],"title":"yₚ [mm]"}},
    "y":{"field":"y","type":"quantitative","scale":{"domain":[-1.976,0.547],"nice":false,"zero":false},"axis":{"values":[-1.5,-1,-0.5,0,0.5],"title":"zₚ [mm]"}}}},
   {"data":{"name":"p5f"},"mark":{"type":"point","filled":true,"color":"#008000","size":15,"opacity":1},"encoding":{
    "x":{"field":"x","type":"quantitative","scale":{"domain":[0,3.53],"nice":false,"zero":false},"axis":{"orient":"top","values":[0,0.5,1,1.5,2,2.5,3,3.5],"labels":false,"title":null}},
    "y":{"field":"y","type":"quantitative","scale":{"domain":[-1.976,0.547],"nice":false,"zero":false},"axis":{"orient":"right","values":[-1.5,-1,-0.5,0,0.5],"labels":false,"title":null}}}}
  ],"resolve":{"scale":{"x":"independent","y":"independent"}}},
  {"width":199,"height":143,"view":{"stroke":null},"data":{"values":[]},"mark":{"type":"point","filled":false,"opacity":1},
   "encoding":{
    "color":{"field":"s","type":"nominal","scale":{"domain":["modèle","mesure"],"range":["#0000ff","#008000"]},"legend":{"orient":"none","legendX":31,"legendY":21,"title":null}},
    "shape":{"field":"s","type":"nominal","scale":{"domain":["modèle","mesure"],"range":["stroke","circle"]},"legend":{"orient":"none","legendX":31,"legendY":21,"title":null}},
    "size":{"field":"s","type":"nominal","scale":{"domain":["modèle","mesure"],"range":[900,8]},"legend":{"orient":"none","legendX":31,"legendY":21,"title":null}},
    "strokeWidth":{"field":"s","type":"nominal","scale":{"domain":["modèle","mesure"],"range":[1,2.2]},"legend":{"orient":"none","legendX":31,"legendY":21,"title":null}}}}
 ],
 "resolve":{"scale":{"color":"independent","shape":"independent","size":"independent","strokeWidth":"independent"},"legend":{"color":"independent","shape":"independent","size":"independent","strokeWidth":"independent"}}}
], "resolve":{"scale":{"color":"independent","shape":"independent","size":"independent","strokeWidth":"independent"},"legend":{"color":"independent","shape":"independent","size":"independent","strokeWidth":"independent"}}}
],
"spacing": 52,
"resolve":{"scale":{"color":"independent","shape":"independent","size":"independent","strokeWidth":"independent"},"legend":{"color":"independent","shape":"independent","size":"independent","strokeWidth":"independent"}},
"config": {
 "font": "DejaVu Sans",
 "numberFormat": ".1f",
 "view": {"stroke": "black", "strokeWidth": 1},
 "axis": {"domain": false, "grid": false, "ticks": true, "tickSize": -4, "tickColor": "black", "tickWidth": 1, "labelFont": "DejaVu Sans", "labelFontSize": 11, "labelColor": "black", "labelPadding": 5, "labelFlush": false, "labelOverlap": false, "titleFont": "DejaVu Sans", "titleFontSize": 11, "titleFontWeight": "normal", "titleColor": "black", "titlePadding": 5},
 "axisX": {"labelPadding": 7},
 "legend": {"labelFont": "DejaVu Sans", "labelFontSize": 13, "labelColor": "black", "strokeColor": "black", "fillColor": "white", "padding": 2, "rowPadding": 3, "labelOffset": 7, "symbolOffset": 3, "clipHeight": 18, "symbolOpacity": 1, "cornerRadius": 0},
 "title": {"font": "Liberation Serif", "fontSize": 32, "fontWeight": "normal", "color": "black", "anchor": "middle", "offset": 24}
}
}
